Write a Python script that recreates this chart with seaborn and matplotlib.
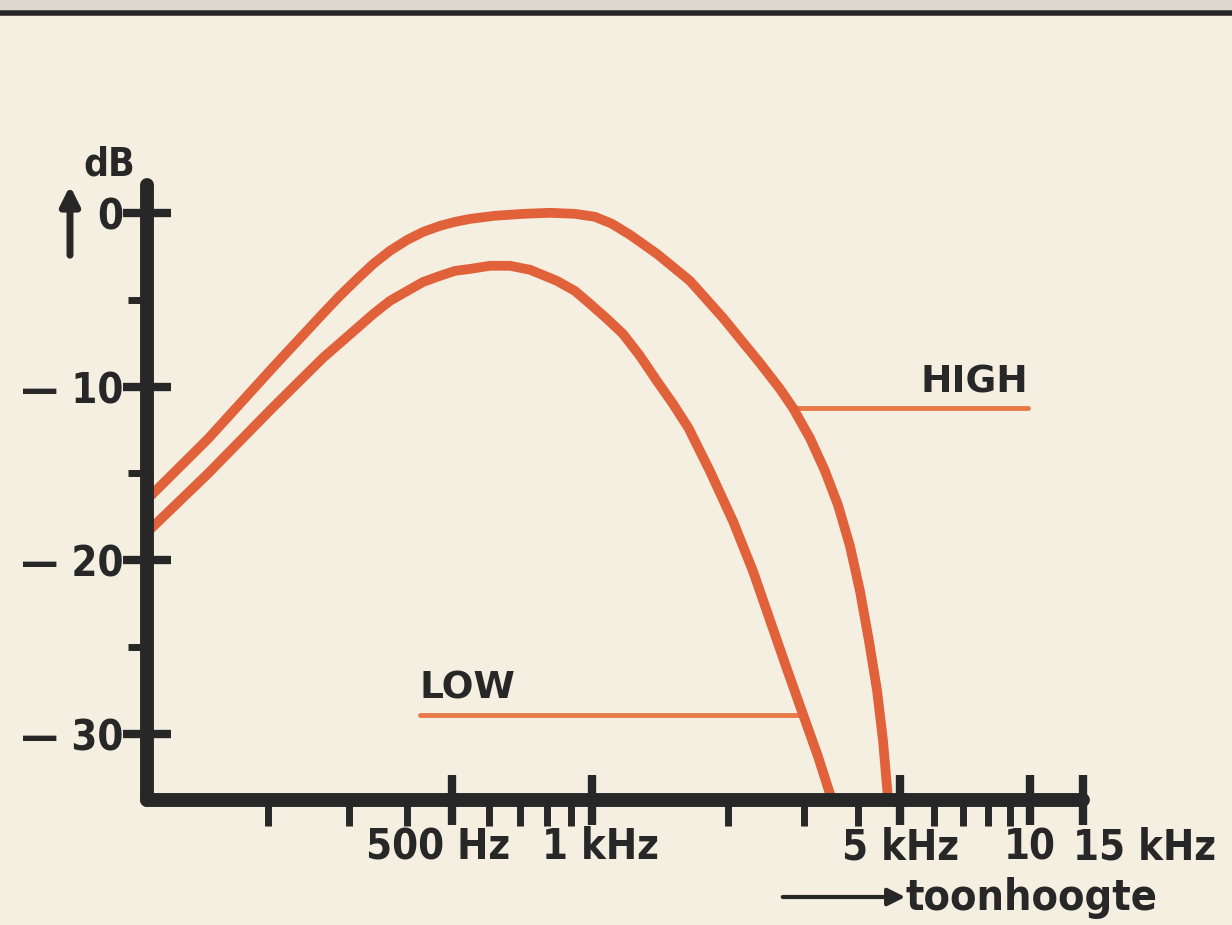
"""Tone control frequency response (HIGH / LOW), redrawn from a printed chart."""
import numpy as np
import pandas as pd
import matplotlib
matplotlib.use("Agg")
import matplotlib.pyplot as plt
import seaborn as sns
from matplotlib.lines import Line2D
from matplotlib.patches import Rectangle
from matplotlib.transforms import ScaledTranslation


# curves (Hz, dB)
HIGH_HZ = [100, 142, 205, 263, 286, 312, 338, 367, 400, 433, 471, 508, 547, 619, 711,
           812, 919, 1015, 1107, 1214, 1392, 1648, 1950, 2371, 2638, 2828, 3095, 3354,
           3594, 3831, 4041, 4240, 4424, 4567, 4700]
HIGH_DB = [-16.5, -13.0, -8.9, -5.8, -4.78, -3.8, -2.94, -2.19, -1.56, -1.1, -0.75, -0.52,
           -0.35, -0.17, -0.06, 0.0, -0.06, -0.23, -0.63, -1.27, -2.36, -3.92, -6.05, -8.65,
           -10.14, -11.24, -12.97, -14.87, -16.83, -19.19, -21.79, -24.67, -27.49, -30.37, -34.0]
LOW_HZ = [100, 142, 205, 263, 312, 338, 367, 400, 433, 471, 508, 547, 604, 666, 736,
          841, 919, 990, 1080, 1171, 1277, 1392, 1511, 1636, 1824, 2054, 2285, 2502,
          2739, 2983, 3231, 3500]
LOW_DB = [-18.4, -15.0, -11.2, -8.35, -6.63, -5.82, -5.07, -4.5, -3.98, -3.63, -3.34, -3.23,
          -3.05, -3.05, -3.28, -3.92, -4.5, -5.24, -6.11, -6.97, -8.24, -9.68, -11.0, -12.4,
          -14.87, -17.75, -20.63, -23.46, -26.28, -28.88, -31.3, -34.0]

# label leader lines (Hz span, dB level)
HIGH_LEADER_HZ = [2828, 9900]
HIGH_LEADER_DB = -11.24
LOW_LEADER_HZ = [426, 2983]
LOW_LEADER_DB = -28.88

MAJOR_HZ = [500, 1000, 5000, 10000, 15000]
MAJOR_LABELS = ["500 Hz", "1 kHz", "5 kHz", "10", "15 kHz"]
MINOR_HZ = [200, 300, 400, 600, 700, 800, 900, 2000, 3000, 4000, 6000, 7000, 8000, 9000]
DB_TICKS = [0, -10, -20, -30]
DB_LABELS = ["0", "\u2014 10", "\u2014 20", "\u2014 30"]
DB_MINOR = [-5, -15, -25]

# the printed frequency axis is hand drawn: where each frequency sits along it
AXIS_HZ = np.log10([10, 100, 200, 500, 1000, 2000, 5000, 10000, 15000, 100000])
AXIS_POS = np.array([-440, 0, 121, 305, 445, 581, 753, 883, 936, 1300])

PAPER = "#f4efe1"
INK = "#272727"
CURVE = "#e0613a"
LEADER = "#e77a47"


def fwd(f):
    return np.interp(np.log10(np.clip(f, 1e-3, None)), AXIS_HZ, AXIS_POS)


def inv(p):
    return 10 ** np.interp(p, AXIS_POS, AXIS_HZ)


df = pd.concat([
    pd.DataFrame({"Hz": HIGH_HZ, "dB": HIGH_DB, "curve": "HIGH"}),
    pd.DataFrame({"Hz": LOW_HZ, "dB": LOW_DB, "curve": "LOW"}),
])

sns.set_theme(style="ticks")
plt.rcParams["font.family"] = ["DejaVu Sans"]
plt.rcParams["font.stretch"] = "condensed"
plt.rcParams["font.weight"] = "bold"

fig = plt.figure(figsize=(12.32, 9.25), dpi=100)
fig.patch.set_facecolor(PAPER)
W, H = 1232, 925
ax = fig.add_axes([147 / W, 1 - 800 / H, (1083 - 147) / W, (800 - 185) / H])
ax.set_facecolor(PAPER)
ax.set_xscale("function", functions=(fwd, inv))

sns.lineplot(data=df, x="Hz", y="dB", hue="curve", palette=[CURVE, CURVE],
             estimator=None, sort=False, linewidth=7, legend=False, ax=ax,
             solid_capstyle="butt", solid_joinstyle="round")

ax.set_xlim(100, 15000)
ax.set_ylim(-33.8, 1.6)
ax.set_xlabel("")
ax.set_ylabel("")

# leader lines + labels
ax.plot(HIGH_LEADER_HZ, [HIGH_LEADER_DB] * 2, color=LEADER, lw=3.5, zorder=1.5)
ax.plot(LOW_LEADER_HZ, [LOW_LEADER_DB] * 2, color=LEADER, lw=3.5, zorder=1.5)
ax.text(HIGH_LEADER_HZ[1], HIGH_LEADER_DB + 0.45, "HIGH", ha="right", va="bottom",
        stretch="normal", fontsize=27, fontweight="bold", color=INK)
ax.text(LOW_LEADER_HZ[0], LOW_LEADER_DB + 0.45, "LOW", ha="left", va="bottom",
        stretch="normal", fontsize=27, fontweight="bold", color=INK)

# axes styling
sns.despine(ax=ax)
for side in ("left", "bottom"):
    ax.spines[side].set_linewidth(10)
    ax.spines[side].set_color(INK)
    ax.spines[side].set_capstyle("round")

ax.set_xticks(MAJOR_HZ, MAJOR_LABELS)
ax.set_xticks(MINOR_HZ, minor=True)
ax.set_yticks(DB_TICKS, DB_LABELS)
ax.set_yticks(DB_MINOR, minor=True)
ax.tick_params(axis="x", which="major", direction="inout", length=36, width=6,
               color=INK, pad=1, labelsize=30, labelcolor=INK)
ax.tick_params(axis="x", which="minor", direction="out", length=19, width=5, color=INK)
ax.tick_params(axis="y", which="major", direction="inout", length=34, width=6,
               color=INK, pad=0, labelsize=30, labelcolor=INK)
ax.tick_params(axis="y", which="minor", direction="out", length=14, width=5, color=INK)

shifts = [-14, 8, 0, 0, -10]
for lab, dx in zip(ax.get_xticklabels(), shifts):
    lab.set_transform(lab.get_transform() + ScaledTranslation(dx / 100, 0, fig.dpi_scale_trans))
ax.get_xticklabels()[-1].set_horizontalalignment("left")

# axis captions
fig.text(109 / W, 1 - 165 / H, "dB", ha="center", va="center", fontsize=28,
         fontweight="bold", color=INK)
ax.annotate("", xy=(70 / W, 1 - 183 / H), xytext=(70 / W, 1 - 258 / H),
            xycoords="figure fraction", textcoords="figure fraction",
            arrowprops=dict(arrowstyle="-|>", lw=5, color=INK, mutation_scale=28))
ax.annotate("", xy=(908 / W, 1 - 897 / H), xytext=(780 / W, 1 - 897 / H),
            xycoords="figure fraction", textcoords="figure fraction",
            arrowprops=dict(arrowstyle="-|>", lw=3, color=INK, mutation_scale=26))
fig.text(905 / W, 1 - 898 / H, "toonhoogte", ha="left", va="center", fontsize=31,
         fontweight="bold", color=INK)

# page rule at the top of the scan
fig.add_artist(Rectangle((0, 1 - 10 / H), 1, 10 / H, transform=fig.transFigure,
                         color="#dcd8ce", lw=0))
fig.add_artist(Line2D([0, 1], [1 - 13 / H] * 2, transform=fig.transFigure,
                      lw=4, color=INK))

fig.savefig("out.png", dpi=100, facecolor=PAPER)
